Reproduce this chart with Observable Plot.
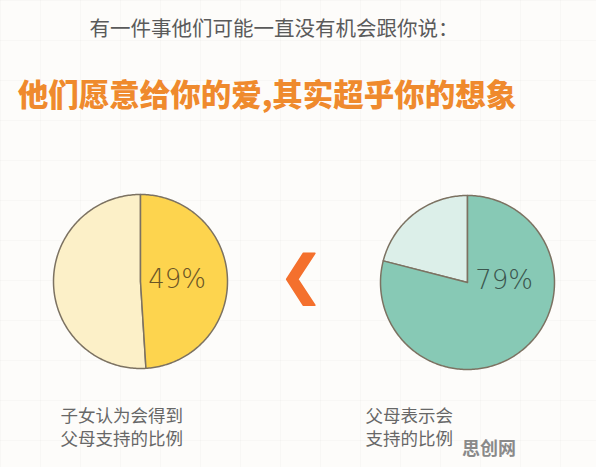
<!DOCTYPE html>
<html>
<head>
<meta charset="utf-8">
<script src="https://cdn.jsdelivr.net/npm/d3@7"></script>
<script src="https://cdn.jsdelivr.net/npm/@observablehq/plot@0.6"></script>
<style>
  html, body { margin: 0; padding: 0; background: #fdfcfa; }
  #wrap { position: relative; width: 596px; height: 467px; overflow: hidden; font-family: "Noto Sans CJK SC", "Noto Sans", sans-serif;
    background-image: linear-gradient(to right, rgba(0,0,0,0.018) 1px, transparent 1px), linear-gradient(to bottom, rgba(0,0,0,0.018) 1px, transparent 1px);
    background-size: 40px 40px; }
  #head { height: 130px; position: relative; }
  #t1 { position: absolute; top: 14px; left: 0; width: 548px; text-align: center; font-size: 20.5px; line-height: 26px; color: #5a5a5a; }
  #t2 { position: absolute; top: 71px; left: 0; width: 534px; text-align: center; font-size: 30.5px; line-height: 44px; font-weight: 900; color: #ef8a2d; letter-spacing: 0px;
        text-shadow: 0 0 2px #fff; }
  #wm { position: absolute; left: 462px; top: 436px; font-size: 18px; font-weight: 700; color: #8a8a8a; line-height: 22px; }
  #chart svg { display: block; }
</style>
</head>
<body>
<div id="wrap">
  <div id="head">
    <div id="t1"></div>
    <div id="t2"></div>
  </div>
  <div id="chart"></div>
  <div id="wm"></div>
</div>
<script>
// ---- data ----
const subtitle = "有一件事他们可能一直没有机会跟你说：";
const headline = "他们愿意给你的爱，其实超乎你的想象".replace("，", ",");
const groups = ["子女", "父母"];
const shares = [49, 79];               // percent
const captions = [["子女认为会得到", "父母支持的比例"], ["父母表示会", "支持的比例"]];
const watermark = "思创网";
const separator = "❮";

document.getElementById("t1").textContent = subtitle;
document.getElementById("t2").textContent = headline;
document.getElementById("wm").textContent = watermark;

// ---- layout ----
const W = 596, H = 337;
const centers = [[140, 151], [467, 152]];
const R = 87;
const mainFill = ["#fdd44e", "#87c9b5"];
const restFill = ["#fcf0c8", "#dcefe9"];
const labelInk = ["#6a5526", "#3b564e"];

function slicePoints(cx, cy, a0, a1) {
  const pts = [{x: cx, y: cy}];
  const n = Math.max(2, Math.ceil((a1 - a0) / (Math.PI / 180)));
  for (let i = 0; i <= n; i++) {
    const a = a0 + (a1 - a0) * i / n;
    pts.push({x: cx + R * Math.sin(a), y: cy - R * Math.cos(a)});
  }
  pts.push({x: cx, y: cy});
  return pts;
}

const marks = [];
groups.forEach((g, i) => {
  const [cx, cy] = centers[i];
  const split = shares[i] / 100 * 2 * Math.PI;
  marks.push(Plot.line(slicePoints(cx, cy, split, 2 * Math.PI), {x: "x", y: "y", fill: restFill[i], stroke: "#7c7262", strokeWidth: 1.5, strokeLinejoin: "round"}));
  marks.push(Plot.line(slicePoints(cx, cy, 0, split), {x: "x", y: "y", fill: mainFill[i], stroke: "#7c7262", strokeWidth: 1.5, strokeLinejoin: "round"}));
});

const pctData = groups.map((g, i) => ({x: centers[i][0] + R * 0.42, y: centers[i][1] - 2, t: shares[i] + "%", c: labelInk[i]}));
marks.push(Plot.text(pctData, {x: "x", y: "y", text: "t", fill: "c", fontSize: 26, fontWeight: 200, fontFamily: "DejaVu Sans", letterSpacing: 1}));

const capData = [];
groups.forEach((g, i) => captions[i].forEach((line, j) => capData.push({x: i === 0 ? 60 : 365, y: 286 + j * 23, t: line})));
marks.push(Plot.text(capData, {x: "x", y: "y", text: "t", textAnchor: "start", lineAnchor: "middle", fontSize: 17.5, fill: "#676767", fontFamily: "Noto Sans CJK SC"}));

marks.push(Plot.text([{x: (centers[0][0] + centers[1][0]) / 2 - 3, y: 146, t: separator}], {x: "x", y: "y", text: "t", fontSize: 52, fontWeight: 900, fill: "#f4702d", stroke: "#f4702d", strokeWidth: 1.5, strokeLinejoin: "round", fontFamily: "DejaVu Sans"}));

const chart = Plot.plot({
  width: W, height: H,
  margin: 0,
  x: {domain: [0, W], range: [0, W], axis: null},
  y: {domain: [0, H], range: [0, H], axis: null},
  style: {background: "transparent", overflow: "visible"},
  marks
});
document.getElementById("chart").appendChild(chart);
</script>
</body>
</html>
